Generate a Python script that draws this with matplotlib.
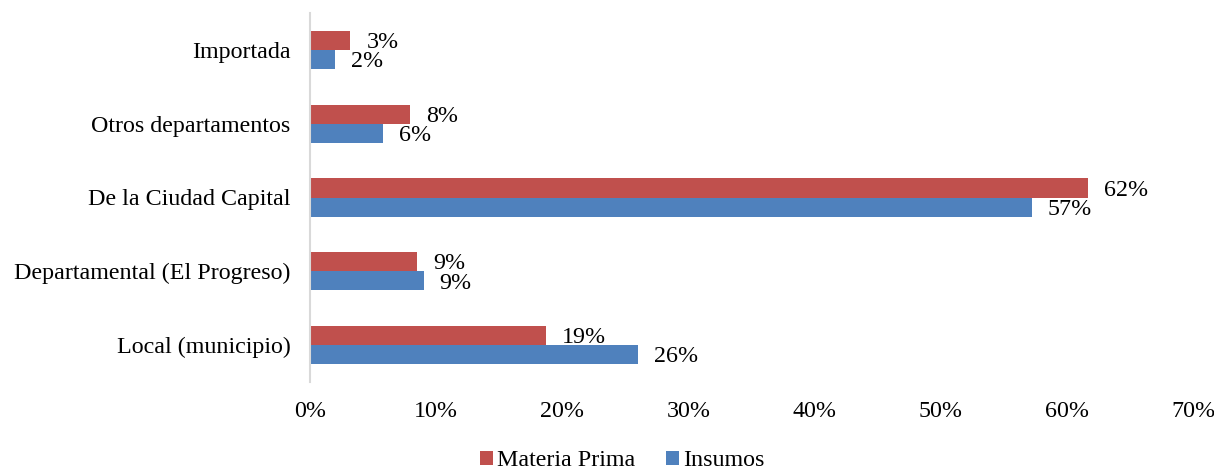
import matplotlib
matplotlib.use("Agg")
import matplotlib.pyplot as plt
import numpy as np

categories = ["Local (municipio)", "Departamental (El Progreso)", "De la Ciudad Capital",
              "Otros departamentos", "Importada"]
materia_prima = [18.7, 8.5, 61.7, 7.9, 3.2]
insumos = [26.0, 9.0, 57.2, 5.8, 2.0]
mp_labels = ["19%", "9%", "62%", "8%", "3%"]
in_labels = ["26%", "9%", "57%", "6%", "2%"]
xticks = [0, 10, 20, 30, 40, 50, 60, 70]
xticklabels = ["0%", "10%", "20%", "30%", "40%", "50%", "60%", "70%"]

red = "#C0504D"
blue = "#4F81BD"

plt.rcParams['font.family'] = ['Liberation Serif', 'DejaVu Serif']

fig = plt.figure(figsize=(12.14, 4.71), dpi=100)
ax = fig.add_axes([310/1214, 1-382/471, (1193-310)/1214, (382-13)/471])

y = np.arange(len(categories))
h = 0.26
ax.barh(y + h/2, materia_prima, height=h, color=red, label="Materia Prima")
ax.barh(y - h/2, insumos, height=h, color=blue, label="Insumos")

fs = 17.3
for i in range(len(categories)):
    ax.annotate(mp_labels[i], (materia_prima[i], y[i] + h/2 - 0.03), xytext=(11.5, 0),
                textcoords="offset points", va="center", ha="left", fontsize=fs)
    ax.annotate(in_labels[i], (insumos[i], y[i] - h/2 - 0.03), xytext=(11.5, 0),
                textcoords="offset points", va="center", ha="left", fontsize=fs)

ax.set_xlim(0, 70)
ax.set_ylim(-0.5, len(categories) - 0.5)
ax.set_xticks(xticks)
ax.set_xticklabels(xticklabels, fontsize=fs)
ax.set_yticks(y)
ax.set_yticklabels(categories, fontsize=fs)
ax.tick_params(axis='both', length=0)
ax.tick_params(axis='x', pad=14)
ax.tick_params(axis='y', pad=14)
for s in ["top", "right", "bottom"]:
    ax.spines[s].set_visible(False)
ax.spines["left"].set_color("#D9D9D9")
ax.spines["left"].set_linewidth(1.5)

fig.legend(loc="center", bbox_to_anchor=(622/1214, 1-461/471), ncol=2, frameon=False,
           fontsize=fs, handlelength=0.55, handleheight=0.55, handletextpad=0.15,
           columnspacing=1.3)

fig.savefig("out.png", dpi=100)
